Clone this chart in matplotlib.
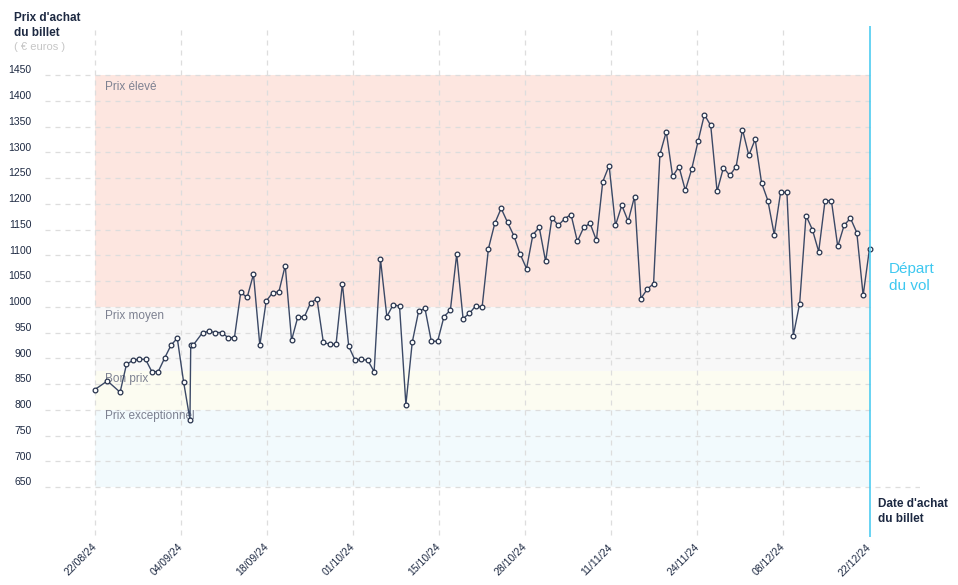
import numpy as np
import matplotlib
matplotlib.use("Agg")
from matplotlib import pyplot as plt
from matplotlib.transforms import ScaledTranslation

plt.rcParams["font.family"] = ["Liberation Sans", "DejaVu Sans"]

# prix du billet, jours depuis le 22/08/24
days_start = [0, 2, 4, 5, 6, 7, 8, 9, 10, 11, 12, 13, 14, 15, 15.12, 15.48]
days = days_start + list(range(17, 123))
prices = [839, 856, 834, 888, 896, 898, 898, 874, 874, 900, 925, 939, 854, 781, 925, 925,
          950, 952, 950, 950, 940, 940, 1028, 1018, 1063, 925, 1011, 1027, 1029, 1080,
          935, 981, 980, 1008, 1015, 931, 927, 927, 1045, 923, 896, 898, 896, 874,
          1092, 981, 1004, 1001, 810, 931, 991, 997, 933, 933, 981, 993, 1102, 977,
          987, 1002, 999, 1113, 1162, 1191, 1164, 1138, 1102, 1074, 1140, 1154, 1088,
          1173, 1158, 1171, 1179, 1127, 1154, 1162, 1129, 1243, 1274, 1158, 1197, 1166,
          1214, 1016, 1034, 1045, 1296, 1340, 1253, 1272, 1226, 1267, 1321, 1373, 1352,
          1224, 1270, 1255, 1272, 1344, 1294, 1325, 1241, 1206, 1140, 1222, 1222, 944,
          1006, 1177, 1150, 1107, 1206, 1206, 1117, 1158, 1172, 1144, 1022, 1113]

tick_labels = ["22/08/24", "04/09/24", "18/09/24", "01/10/24", "15/10/24",
               "28/10/24", "11/11/24", "24/11/24", "08/12/24", "22/12/24"]
last_day = 122
y_ticks = list(range(650, 1451, 50))

band_names = ["Prix élevé", "Prix moyen", "Bon prix", "Prix exceptionnel"]
band_low = [1000, 875, 800, 650]
band_high = [1450, 1000, 875, 800]
band_colors = ["#fde6e0", "#f8f8f8", "#fcfcf1", "#f2fafd"]
band_label_px = [87, 316, 379, 416]

W, H = 958, 585
navy = "#1d2942"
cyan = "#3ec8f0"

fig = plt.figure(figsize=(W / 100, H / 100), dpi=100)
ax = fig.add_axes([45 / W, (H - 540) / H, 875 / W, 520 / H])

# pixel -> data helpers
ppd = (869.5 - 94.7) / last_day
ppu = (487 - 75) / 800


def xd(px):
    return (px - 94.7) / ppd


def yd(py):
    return 1450 - (py - 75) / ppu


ax.set_xlim(xd(45), xd(920))
ax.set_ylim(yd(540), yd(20))
for s in ax.spines.values():
    s.set_visible(False)

for lo, hi, c in zip(band_low, band_high, band_colors):
    ax.fill_between([0, last_day], lo, hi, color=c, lw=0, zorder=0)

grid_kw = dict(color="#dddddd", lw=0.9, linestyles=(0, (4, 4)), zorder=1)
ax.hlines(y_ticks[1:], xd(45), last_day, **grid_kw)
ax.hlines(y_ticks[0], xd(45), xd(920), **grid_kw)

x_ticks = np.linspace(0, last_day, len(tick_labels))
ax.vlines(x_ticks[:-1], yd(535), yd(25), **grid_kw)
ax.vlines(last_day, yd(537), yd(26), color=cyan, lw=1.1, zorder=4)

for name, py in zip(band_names, band_label_px):
    ax.text(xd(105), yd(py), name, color="#7d8191", fontsize=8.5, va="center", zorder=2)

ax.plot(days, prices, color="#3b4966", lw=1, marker="o", markersize=3.4,
        markerfacecolor="white", markeredgecolor="#26324c", markeredgewidth=0.9, zorder=3)

ax.set_yticks(y_ticks)
ax.set_yticklabels([str(v) for v in y_ticks])
ax.set_xticks(x_ticks)
ax.set_xticklabels(tick_labels, rotation=45, ha="right", va="center", rotation_mode="anchor")
ax.tick_params(axis="y", length=0, pad=9.5, labelsize=7.5, labelcolor=navy)
ax.tick_params(axis="x", length=0, pad=4, labelsize=7.5, labelcolor=navy)
shift = ScaledTranslation(0, 4 / 72, fig.dpi_scale_trans)
for lab in ax.get_yticklabels():
    lab.set_transform(lab.get_transform() + shift)

fig.text(14 / W, 1 - 12 / H, "Prix d'achat\ndu billet", color=navy, fontsize=8.5,
         fontweight="bold", va="top", linespacing=1.3)
fig.text(14 / W, 1 - 47 / H, "( € euros )", color="#c6c6c6", fontsize=8, va="center")
fig.text(878 / W, 1 - 498 / H, "Date d'achat\ndu billet", color=navy, fontsize=8.5,
         fontweight="bold", va="top", linespacing=1.3)
fig.text(889 / W, 1 - 262 / H, "Départ\ndu vol", color=cyan, fontsize=11,
         va="top", linespacing=1.25)

fig.savefig("out.png", dpi=100)
